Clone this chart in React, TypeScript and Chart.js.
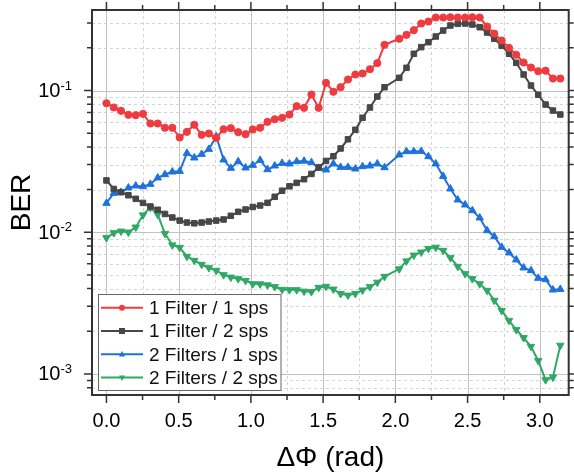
import { useEffect, useRef } from 'react';
import { Chart, registerables } from 'chart.js';

Chart.register(...registerables);

const FONT = '"Liberation Sans", Arial, sans-serif';

// phase difference (rad)
const phase = [
  0, 0.051, 0.101, 0.152, 0.203, 0.253, 0.304, 0.355, 0.405, 0.456,
  0.507, 0.557, 0.608, 0.659, 0.709, 0.760, 0.811, 0.861, 0.912, 0.963,
  1.013, 1.064, 1.115, 1.165, 1.216, 1.267, 1.317, 1.368, 1.419, 1.469,
  1.520, 1.571, 1.621, 1.672, 1.723, 1.773, 1.824, 1.875, 1.925,
  2.027, 2.077, 2.128, 2.179, 2.229, 2.280, 2.331, 2.381, 2.432, 2.483, 2.533, 2.584,
  2.635, 2.685, 2.736, 2.787, 2.837, 2.888, 2.939, 2.989, 3.040, 3.091, 3.142,
];

const ber1Filter1sps = [
  0.0813, 0.0759, 0.0719, 0.0674, 0.067, 0.0685, 0.0585, 0.0585, 0.0546, 0.0546,
  0.0466, 0.0511, 0.0573, 0.0487, 0.0497, 0.0463, 0.0533, 0.0542, 0.0508, 0.0492,
  0.0531, 0.0546, 0.0601, 0.0627, 0.0642, 0.0677, 0.0775, 0.0755, 0.0937, 0.0755,
  0.1133, 0.098, 0.1055, 0.1196, 0.1297, 0.1318, 0.1413, 0.156, 0.21,
  0.232, 0.247, 0.2665, 0.297, 0.307, 0.3275, 0.3275, 0.329, 0.3275, 0.3275, 0.329, 0.3275,
  0.283, 0.252, 0.2254, 0.2, 0.1787, 0.1576, 0.1453, 0.1368, 0.138, 0.1215, 0.1215,
];

const ber1Filter2sps = [
  0.0232, 0.0202, 0.01915, 0.01824, 0.0172, 0.0161, 0.0152, 0.0144, 0.01346, 0.0127,
  0.01208, 0.0117, 0.01156, 0.0117, 0.0119, 0.01208, 0.0123, 0.01306, 0.01393, 0.01446,
  0.01507, 0.01543, 0.01612, 0.01778, 0.01963, 0.02109, 0.0223, 0.02366, 0.02579, 0.02866,
  0.03186, 0.03438, 0.03899, 0.04529, 0.0528, 0.0642, 0.0759, 0.0907, 0.1055,
  0.1229, 0.1446, 0.1816, 0.2023, 0.2193, 0.2404, 0.265, 0.2875, 0.2955, 0.297, 0.2923, 0.2797,
  0.2566, 0.2317, 0.2068, 0.1816, 0.1568, 0.1297, 0.1084, 0.0933, 0.0796, 0.0722, 0.0677,
];

const ber2Filters1sps = [
  0.01603, 0.01885, 0.01915, 0.02057, 0.02125, 0.02101, 0.02182, 0.0242, 0.02553, 0.02668,
  0.02694, 0.0361, 0.0335, 0.03552, 0.03854, 0.04736, 0.03243, 0.02831, 0.03155, 0.02847,
  0.02971, 0.03222, 0.0277, 0.02941, 0.0307, 0.0304, 0.03155, 0.0318, 0.03105, 0.02831,
  0.02757, 0.0304, 0.02875, 0.02875, 0.02801, 0.0291, 0.02941, 0.0304, 0.0286,
  0.03517, 0.03712, 0.03712, 0.0373, 0.0342, 0.0304, 0.02484, 0.02024, 0.01693, 0.01561, 0.01423, 0.01264,
  0.01028, 0.00932, 0.00784, 0.00716, 0.00639, 0.00561, 0.00537, 0.00474, 0.00464, 0.00392, 0.00396,
];

const ber2Filters2sps = [
  0.00913, 0.0099, 0.01016, 0.0100, 0.01085, 0.01322, 0.01494, 0.01333, 0.00979, 0.00812,
  0.0078, 0.00674, 0.00632, 0.00592, 0.00561, 0.00537, 0.005, 0.00481, 0.00469, 0.00456,
  0.00432, 0.00431, 0.00424, 0.00412, 0.00394, 0.00392, 0.00392, 0.00383, 0.0038, 0.00407,
  0.00414, 0.00396, 0.00368, 0.00359, 0.00369, 0.0039, 0.00412, 0.00443, 0.00487,
  0.0055, 0.00626, 0.00688, 0.00723, 0.00767, 0.00782, 0.00743, 0.0066, 0.00573, 0.00509, 0.00469, 0.00432,
  0.00388, 0.0033, 0.0028, 0.00238, 0.00205, 0.0018, 0.00156, 0.00124, 0.000908, 0.000948, 0.00159,
];

const seriesNames = ['1 Filter / 1 sps', '1 Filter / 2 sps', '2 Filters / 1 sps', '2 Filters / 2 sps'];
const seriesColors = ['#EE3B3F', '#474747', '#1E72DC', '#2FA866'];
const seriesMarkers = ['circle', 'rect', 'triangle', 'triangleDown'];

const xMajorTicks = [0, 0.5, 1.0, 1.5, 2.0, 2.5, 3.0];
const xMinorTicks = [0.25, 0.75, 1.25, 1.75, 2.25, 2.75];
const yMajorTicks = [1e-3, 1e-2, 1e-1];
const yTickBase = '10';
const yTickExponents = ['-3', '-2', '-1'];
const yMinorTicks = [
  8e-4, 9e-4,
  2e-3, 3e-3, 4e-3, 5e-3, 6e-3, 7e-3, 8e-3, 9e-3,
  2e-2, 3e-2, 4e-2, 5e-2, 6e-2, 7e-2, 8e-2, 9e-2,
  2e-1, 3e-1,
];

function drawMarker(ctx: CanvasRenderingContext2D, kind: string, x: number, y: number, r: number) {
  ctx.beginPath();
  if (kind === 'circle') {
    ctx.arc(x, y, r, 0, Math.PI * 2);
  } else if (kind === 'rect') {
    ctx.rect(x - r, y - r, 2 * r, 2 * r);
  } else if (kind === 'triangle') {
    ctx.moveTo(x, y - r * 1.1);
    ctx.lineTo(x + r, y + r * 0.7);
    ctx.lineTo(x - r, y + r * 0.7);
    ctx.closePath();
  } else {
    ctx.moveTo(x, y + r * 1.1);
    ctx.lineTo(x + r, y - r * 0.7);
    ctx.lineTo(x - r, y - r * 0.7);
    ctx.closePath();
  }
  ctx.fill();
}

const framePlugin = {
  id: 'originFrame',
  beforeDatasetsDraw(chart: any) {
    const { ctx, chartArea: a, scales } = chart;
    const x = scales.x;
    const y = scales.y;
    ctx.save();
    ctx.lineWidth = 1;
    ctx.strokeStyle = '#d4d4d4';
    ctx.setLineDash([3, 3]);
    ctx.beginPath();
    for (const v of xMinorTicks) {
      const p = Math.round(x.getPixelForValue(v)) + 0.5;
      ctx.moveTo(p, a.top); ctx.lineTo(p, a.bottom);
    }
    for (const v of yMinorTicks) {
      const p = Math.round(y.getPixelForValue(v)) + 0.5;
      ctx.moveTo(a.left, p); ctx.lineTo(a.right, p);
    }
    ctx.stroke();
    ctx.setLineDash([]);
    ctx.strokeStyle = '#c2c2c2';
    ctx.beginPath();
    for (const v of xMajorTicks) {
      const p = Math.round(x.getPixelForValue(v)) + 0.5;
      ctx.moveTo(p, a.top); ctx.lineTo(p, a.bottom);
    }
    for (const v of yMajorTicks) {
      const p = Math.round(y.getPixelForValue(v)) + 0.5;
      ctx.moveTo(a.left, p); ctx.lineTo(a.right, p);
    }
    ctx.stroke();
    ctx.restore();
  },
  afterDatasetsDraw(chart: any) {
    const { ctx, chartArea: a, scales } = chart;
    const x = scales.x;
    const y = scales.y;
    ctx.save();
    // tick marks on all four sides
    ctx.strokeStyle = '#333';
    ctx.lineWidth = 1.5;
    ctx.beginPath();
    const tickX = (vals: number[], len: number) => {
      for (const v of vals) {
        const p = x.getPixelForValue(v);
        ctx.moveTo(p, a.bottom); ctx.lineTo(p, a.bottom + len);
        ctx.moveTo(p, a.top); ctx.lineTo(p, a.top - len);
      }
    };
    const tickY = (vals: number[], len: number) => {
      for (const v of vals) {
        const p = y.getPixelForValue(v);
        ctx.moveTo(a.left, p); ctx.lineTo(a.left - len, p);
        ctx.moveTo(a.right, p); ctx.lineTo(a.right + len, p);
      }
    };
    tickX(xMajorTicks, 8);
    tickX(xMinorTicks, 5);
    tickY(yMajorTicks, 8);
    tickY(yMinorTicks, 5);
    ctx.stroke();
    // frame
    ctx.strokeStyle = '#333';
    ctx.lineWidth = 2;
    ctx.strokeRect(a.left, a.top, a.right - a.left, a.bottom - a.top);

    // y tick labels with superscript exponent
    ctx.fillStyle = '#000';
    yMajorTicks.forEach((v, i) => {
      const p = y.getPixelForValue(v);
      const exp = yTickExponents[i];
      ctx.font = `13px ${FONT}`;
      const ew = ctx.measureText(exp).width;
      const right = a.left - 20;
      ctx.textAlign = 'left';
      ctx.textBaseline = 'alphabetic';
      ctx.fillText(exp, right - ew, p - 1);
      ctx.font = `20px ${FONT}`;
      ctx.textAlign = 'right';
      ctx.textBaseline = 'middle';
      ctx.fillText(yTickBase, right - ew, p + 1);
    });

    // legend
    const bx = 98.5, by = 294.5, bw = 182.5, bh = 96;
    ctx.fillStyle = '#fff';
    ctx.fillRect(bx, by, bw, bh);
    ctx.strokeStyle = '#666';
    ctx.lineWidth = 1;
    ctx.strokeRect(bx, by, bw, bh);
    seriesNames.forEach((name, i) => {
      const cy = 307.7 + i * 23.3;
      ctx.strokeStyle = seriesColors[i];
      ctx.lineWidth = 2;
      ctx.beginPath();
      ctx.moveTo(101, cy); ctx.lineTo(143, cy);
      ctx.stroke();
      ctx.fillStyle = seriesColors[i];
      drawMarker(ctx, seriesMarkers[i], 122, cy, 3);
      ctx.fillStyle = '#111';
      ctx.font = `19px ${FONT}`;
      ctx.textAlign = 'left';
      ctx.textBaseline = 'middle';
      ctx.fillText(name, 149, cy + 1);
    });
    ctx.restore();
  },
};

export default function App() {
  const ref = useRef<HTMLCanvasElement | null>(null);
  useEffect(() => {
    if (!ref.current) return;
    const allSeries = [ber1Filter1sps, ber1Filter2sps, ber2Filters1sps, ber2Filters2sps];
    const styles: any[] = [
      { pointStyle: 'circle', pointRadius: 3.6, pointRotation: 0 },
      { pointStyle: 'rect', pointRadius: 3.9, pointRotation: 0 },
      { pointStyle: 'triangle', pointRadius: 4.3, pointRotation: 0 },
      { pointStyle: 'triangle', pointRadius: 4.3, pointRotation: 180 },
    ];
    const chart = new Chart(ref.current, {
      type: 'line',
      data: {
        datasets: allSeries.map((vals, i) => ({
          label: seriesNames[i],
          data: phase.map((p, j) => ({ x: p, y: vals[j] })),
          borderColor: seriesColors[i],
          backgroundColor: seriesColors[i],
          pointBackgroundColor: seriesColors[i],
          pointBorderColor: seriesColors[i],
          pointBorderWidth: 1,
          borderWidth: 2,
          tension: 0,
          ...styles[i],
        })),
      },
      plugins: [framePlugin],
      options: {
        animation: false,
        responsive: false,
        events: [],
        layout: { padding: { top: 10, right: 3, left: 0, bottom: 0 } },
        plugins: {
          legend: { display: false },
          tooltip: { enabled: false },
        },
        scales: {
          x: {
            type: 'linear',
            min: -0.1,
            max: 3.2,
            afterBuildTicks: (s: any) => { s.ticks = xMajorTicks.map((v) => ({ value: v })); },
            afterFit: (s: any) => { s.height = 81; },
            grid: { display: false },
            border: { display: false },
            ticks: {
              autoSkip: false,
              maxRotation: 0,
              padding: 6,
              color: '#000',
              font: { family: FONT, size: 20 },
              callback: (v: any) => Number(v).toFixed(1),
            },
            title: {
              display: true,
              text: 'ΔΦ (rad)',
              color: '#000',
              font: { family: FONT, size: 28 },
              padding: { top: 0, bottom: 1 },
            },
          },
          y: {
            type: 'logarithmic',
            min: 7.1e-4,
            max: 0.37,
            afterBuildTicks: (s: any) => { s.ticks = yMajorTicks.map((v) => ({ value: v })); },
            afterFit: (s: any) => { s.width = 92; },
            grid: { display: false },
            border: { display: false },
            ticks: { display: false },
            title: {
              display: true,
              text: 'BER',
              color: '#000',
              font: { family: FONT, size: 28 },
              padding: { top: 5, bottom: 0 },
            },
          },
        },
      } as any,
    });
    return () => chart.destroy();
  }, []);
  return (
    <div style={{ position: 'fixed', left: 0, top: 0, width: 574, height: 476, background: '#fff' }}>
      <canvas ref={ref} width={574} height={476} style={{ display: 'block' }} />
    </div>
  );
}
